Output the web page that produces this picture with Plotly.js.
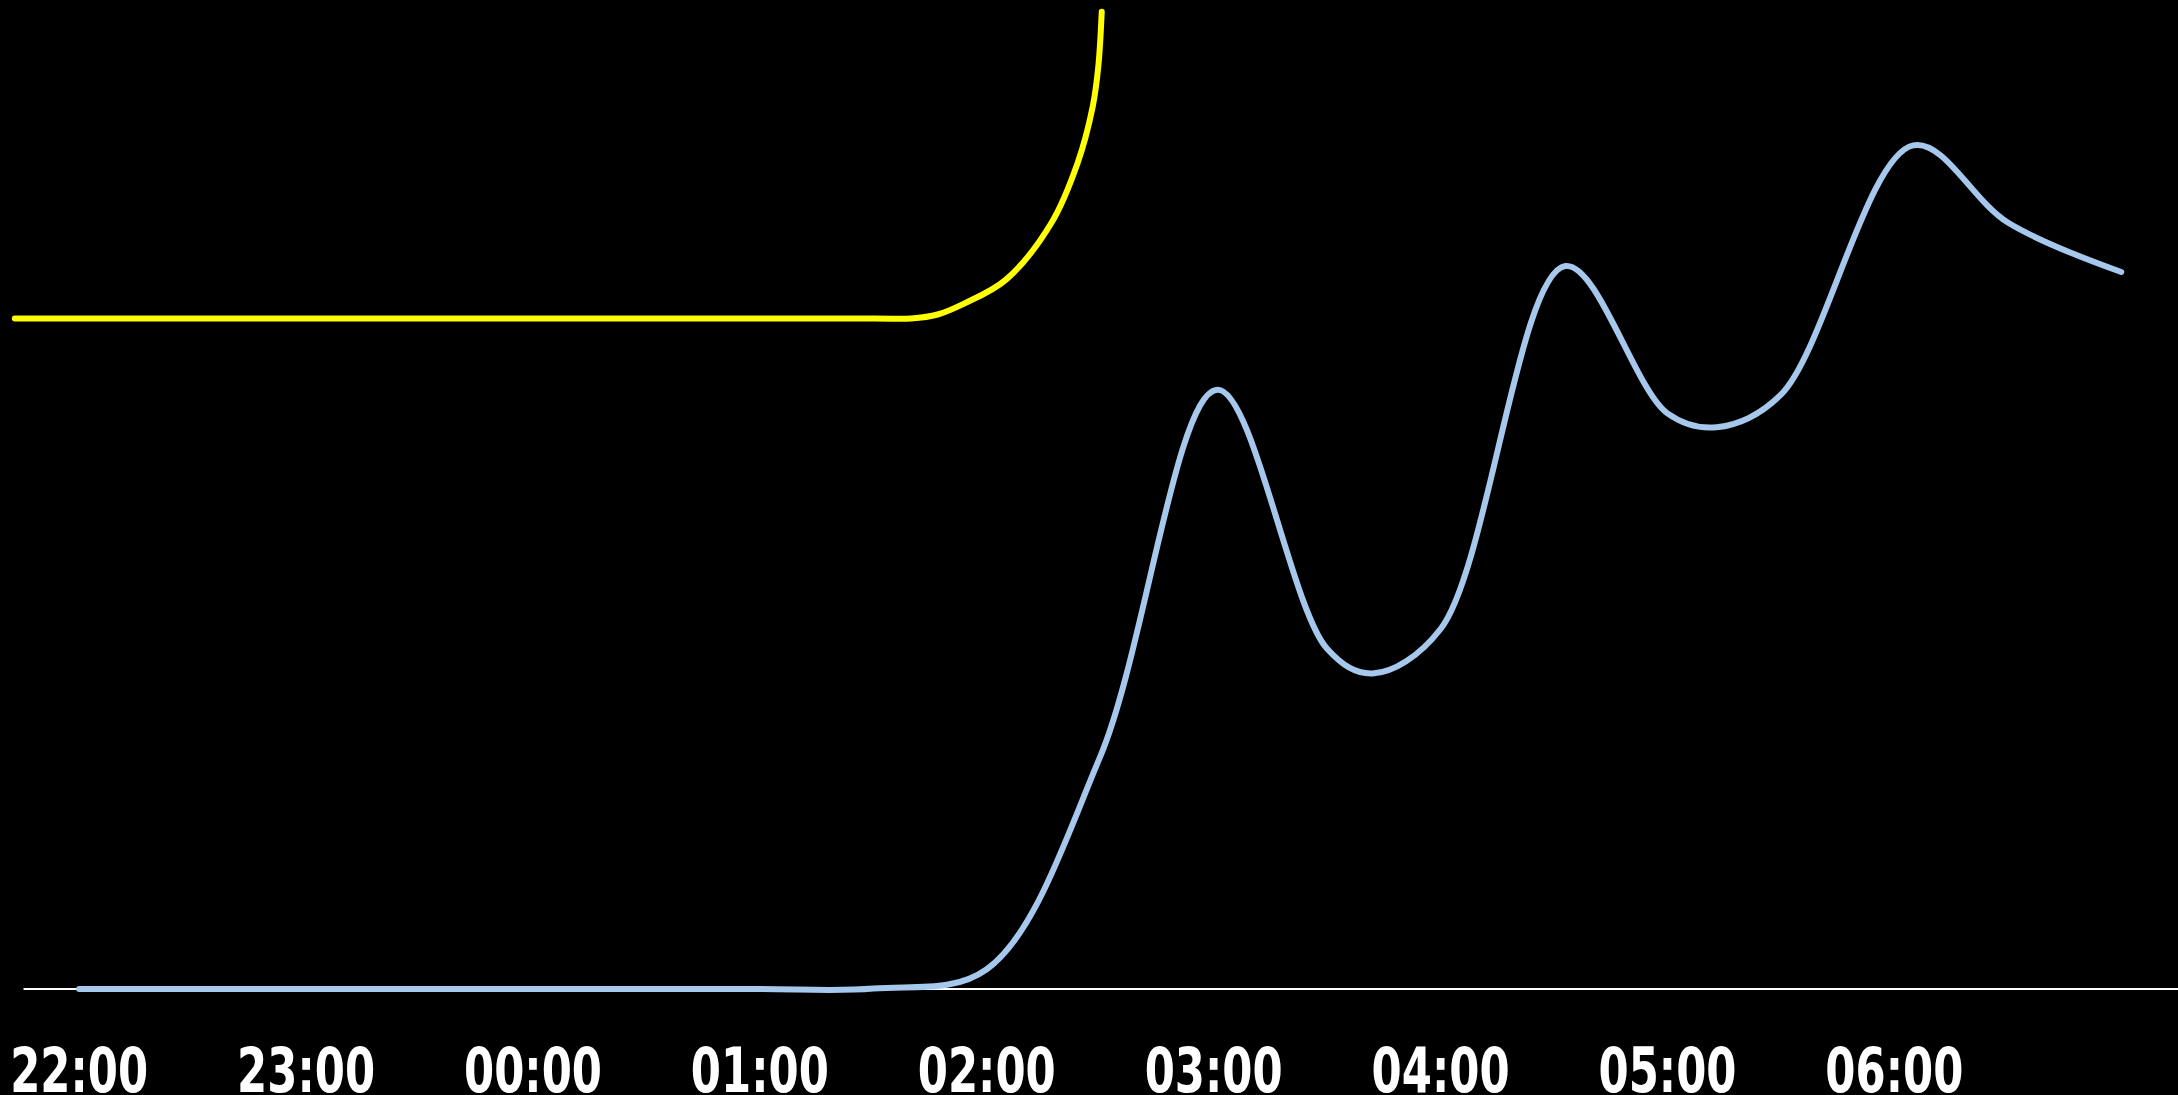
<!DOCTYPE html>
<html>
<head>
<meta charset="utf-8">
<script src="https://cdn.plot.ly/plotly-3.0.1.min.js"></script>
<style>
  html, body { margin: 0; padding: 0; background: #000; }
  #chart { width: 2178px; height: 1095px; }
  .scatterlayer path.js-line { stroke-linecap: round; }
</style>
</head>
<body>
<div id="chart"></div>
<script>
// Blue series (including its turning points)
const blueTimes = [
  '2024-01-01 22:00', '2024-01-01 22:30', '2024-01-01 23:00', '2024-01-01 23:30',
  '2024-01-02 00:00', '2024-01-02 00:30', '2024-01-02 01:00', '2024-01-02 01:30',
  '2024-01-02 02:00', '2024-01-02 02:30', '2024-01-02 03:01', '2024-01-02 03:30',
  '2024-01-02 03:42', '2024-01-02 04:00', '2024-01-02 04:33', '2024-01-02 05:00',
  '2024-01-02 05:13', '2024-01-02 05:30', '2024-01-02 06:05', '2024-01-02 06:30',
  '2024-01-02 07:00'
];
const blueValues = [0, 0, 0, 0, 0, 0, 0, 0.05, 2.0, 23.5, 60.6, 34.4, 31.9, 36.4, 73.1, 58.2, 56.8, 60.1, 85.3, 77.5, 72.5];

// Yellow series
const yellowTimes = [
  '2024-01-01 21:43:00', '2024-01-02 01:30:00', '2024-01-02 01:40:00', '2024-01-02 01:47:00',
  '2024-01-02 01:54:00', '2024-01-02 02:05:00', '2024-01-02 02:17:00', '2024-01-02 02:24:00',
  '2024-01-02 02:28:00', '2024-01-02 02:29:30', '2024-01-02 02:30:24'
];
const yellowValues = [67.8, 67.8, 67.8, 68.2, 69.3, 71.7, 77.4, 83.5, 89.2, 93.3, 98.8];

// Tick labels
const tickTimes = [
  '2024-01-01 22:00', '2024-01-01 23:00', '2024-01-02 00:00', '2024-01-02 01:00',
  '2024-01-02 02:00', '2024-01-02 03:00', '2024-01-02 04:00', '2024-01-02 05:00',
  '2024-01-02 06:00'
];
const tickLabels = ['22:00', '23:00', '00:00', '01:00', '02:00', '03:00', '04:00', '05:00', '06:00'];

const traces = [
  {
    x: yellowTimes, y: yellowValues, type: 'scatter', mode: 'lines',
    line: { color: '#ffff00', width: 6, shape: 'spline', smoothing: 1 },
    hoverinfo: 'skip'
  },
  {
    x: blueTimes, y: blueValues, type: 'scatter', mode: 'lines',
    line: { color: '#a6c8ec', width: 6, shape: 'spline', smoothing: 1 },
    hoverinfo: 'skip'
  }
];

const layout = {
  width: 2178, height: 1095,
  margin: { l: 0, r: 0, t: 0, b: 80, pad: 0 },
  paper_bgcolor: '#000', plot_bgcolor: '#000',
  showlegend: false,
  xaxis: {
    type: 'date',
    range: ['2024-01-01 21:39:04', '2024-01-02 07:15:00'],
    tickmode: 'array', tickvals: tickTimes, ticktext: tickLabels,
    ticks: '', showgrid: false, zeroline: false, showline: false,
    ticklabelstandoff: 14, ticklabeloverflow: 'allow',
    tickfont: { family: '"DejaVu Sans", sans-serif', size: 62, color: '#ffffff', weight: 'bold' }
  },
  yaxis: {
    range: [-2.63, 100], visible: false, showgrid: false, zeroline: false, fixedrange: true
  },
  shapes: [
    { type: 'line', xref: 'paper', yref: 'y', x0: 0.0108, x1: 1, y0: 0, y1: 0,
      line: { color: '#ffffff', width: 2 }, layer: 'below' }
  ]
};

function condenseTicks() {
  document.querySelectorAll('#chart .xtick text').forEach(t => {
    t.setAttribute('textLength', '138');
    t.setAttribute('lengthAdjust', 'spacingAndGlyphs');
  });
}

Plotly.newPlot('chart', traces, layout, { staticPlot: true, displayModeBar: false })
  .then(gd => { condenseTicks(); gd.on('plotly_afterplot', condenseTicks); });
</script>
</body>
</html>
